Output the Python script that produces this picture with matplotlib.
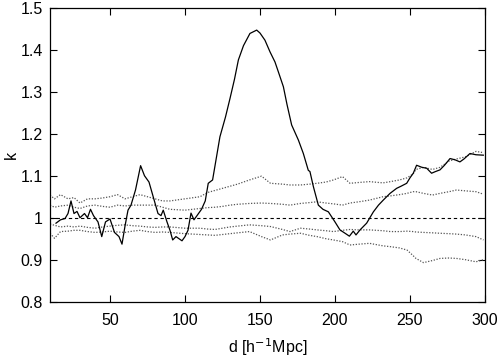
import matplotlib
matplotlib.use("Agg")
import matplotlib.pyplot as plt
from matplotlib.ticker import FuncFormatter

plt.rcParams['font.family'] = ['Liberation Sans', 'DejaVu Sans']

# measured k(d)
d_meas = [14, 17, 20, 22, 24, 26, 28, 30, 33, 35, 37, 39, 42, 44.5, 47, 50,
          53, 56, 58, 60, 62, 64, 67, 70.4, 73, 76, 78, 80, 82, 84, 85.5, 88,
          90, 91.8, 94, 96, 98, 100, 102, 104, 106, 108, 111, 113.5, 115.5, 118.4,
          123.3, 127, 130, 133, 135.6, 139, 143.3, 147.8, 150, 153.3, 156.7, 160,
          162.2, 165.6, 168, 171.1, 175.6, 178.9, 182.2, 183.3, 185.6, 188.9, 192,
          195.6, 200, 203.3, 206.7, 209.6, 212.2, 214, 216.7, 221.1, 225.6, 229,
          232.2, 236.7, 241.1, 244, 247.8, 250, 252.2, 254.4, 258, 261.1, 264.4,
          267, 270, 273, 276.7, 280, 283.3, 286, 290, 294, 298.9]
k_meas = [0.987, 0.995, 0.998, 1.01, 1.04, 1.01, 1.015, 1.0, 1.01, 1.0, 1.02, 1.005,
          0.99, 0.955, 0.99, 0.997, 0.965, 0.955, 0.937, 0.98, 1.018, 1.03, 1.066,
          1.124, 1.1, 1.085, 1.06, 1.035, 1.01, 1.005, 1.018, 0.99, 0.97, 0.947,
          0.955, 0.95, 0.945, 0.955, 0.97, 1.011, 0.995, 1.005, 1.02, 1.04, 1.082,
          1.09, 1.193, 1.24, 1.284, 1.33, 1.376, 1.41, 1.439, 1.447, 1.44, 1.423,
          1.395, 1.371, 1.348, 1.312, 1.27, 1.221, 1.185, 1.153, 1.113, 1.11, 1.074,
          1.03, 1.02, 1.014, 0.99, 0.971, 0.963, 0.956, 0.968, 0.959, 0.971, 0.987,
          1.014, 1.03, 1.042, 1.058, 1.07, 1.075, 1.082, 1.095, 1.106, 1.125, 1.12,
          1.118, 1.106, 1.11, 1.114, 1.125, 1.141, 1.138, 1.133, 1.14, 1.153,
          1.15, 1.149]

# band curves
d_band = [10, 13, 17, 22, 26, 30, 35, 40, 45, 50, 55, 60, 65, 70, 75, 80, 85, 90,
          100, 110, 115, 120, 125, 130, 135, 143, 151, 157, 165, 170, 177, 183,
          188, 194, 199, 205, 210, 216, 223, 232, 237, 243, 248, 252, 254, 259,
          265, 270, 276, 281, 287, 294, 299]
up_outer = [1.054, 1.045, 1.055, 1.045, 1.048, 1.035, 1.045, 1.045, 1.047, 1.05,
            1.055, 1.045, 1.05, 1.055, 1.05, 1.045, 1.04, 1.04, 1.045, 1.05, 1.06,
            1.065, 1.07, 1.075, 1.08, 1.09, 1.099, 1.082, 1.08, 1.078, 1.078, 1.08,
            1.082, 1.085, 1.09, 1.098, 1.082, 1.084, 1.086, 1.083, 1.086, 1.09,
            1.095, 1.104, 1.115, 1.12, 1.115, 1.12, 1.135, 1.14, 1.145, 1.158, 1.155]
up_inner = [1.03, 1.025, 1.028, 1.03, 1.025, 1.022, 1.028, 1.03, 1.027, 1.025,
            1.03, 1.028, 1.03, 1.03, 1.03, 1.03, 1.025, 1.02, 1.018, 1.022, 1.024,
            1.025, 1.027, 1.03, 1.032, 1.034, 1.035, 1.034, 1.032, 1.030, 1.034,
            1.036, 1.038, 1.035, 1.033, 1.030, 1.035, 1.038, 1.042, 1.050, 1.052,
            1.055, 1.058, 1.062, 1.062, 1.058, 1.054, 1.058, 1.062, 1.066, 1.064,
            1.062, 1.056]
lo_inner = [0.985, 0.982, 0.978, 0.98, 0.978, 0.98, 0.977, 0.975, 0.978, 0.98,
            0.982, 0.983, 0.981, 0.98, 0.978, 0.977, 0.978, 0.978, 0.975, 0.975,
            0.973, 0.972, 0.975, 0.978, 0.98, 0.983, 0.981, 0.979, 0.972, 0.967,
            0.975, 0.973, 0.971, 0.969, 0.967, 0.97, 0.972, 0.971, 0.971, 0.969,
            0.967, 0.967, 0.968, 0.967, 0.966, 0.965, 0.964, 0.963, 0.962, 0.961,
            0.959, 0.955, 0.947]
lo_outer = [0.963, 0.951, 0.967, 0.968, 0.97, 0.97, 0.967, 0.965, 0.966, 0.968,
            0.966, 0.965, 0.968, 0.97, 0.967, 0.965, 0.966, 0.965, 0.962, 0.96,
            0.959, 0.958, 0.96, 0.962, 0.964, 0.967, 0.955, 0.947, 0.959, 0.961,
            0.963, 0.958, 0.955, 0.95, 0.947, 0.943, 0.935, 0.937, 0.939, 0.933,
            0.931, 0.928, 0.923, 0.91, 0.903, 0.893, 0.898, 0.903, 0.904, 0.903,
            0.9, 0.895, 0.9]

fig = plt.figure(figsize=(4.99, 3.57), dpi=100)
ax = fig.add_axes([0.1002, 0.155, 0.8717, 0.823])

dot = dict(color='#555555', lw=0.9, ls=(0, (1, 1.3)))
ax.plot(d_band, up_outer, **dot)
ax.plot(d_band, up_inner, **dot)
ax.plot(d_band, lo_inner, **dot)
ax.plot(d_band, lo_outer, **dot)
ax.axhline(1.0, color='black', lw=0.8, ls=(0, (3, 2.5)))
ax.plot(d_meas, k_meas, color='black', lw=0.9)

ax.set_xlim(10, 300)
ax.set_ylim(0.8, 1.5)
ax.set_xticks([50, 100, 150, 200, 250, 300])
ax.set_yticks([0.8, 0.9, 1.0, 1.1, 1.2, 1.3, 1.4, 1.5])
ax.yaxis.set_major_formatter(FuncFormatter(lambda v, p: f"{v:g}"))
ax.tick_params(direction='in', top=True, right=True, length=5, width=0.8,
               labelsize=11.5)
ax.tick_params(axis='x', pad=8)
ax.tick_params(axis='y', pad=5)
for s in ax.spines.values():
    s.set_linewidth(0.9)
ax.set_xlabel(r"d [h$^{-1}$Mpc]", fontsize=11.5, labelpad=6)
ax.set_ylabel("k", fontsize=11.5, labelpad=1)

fig.savefig("out.png", dpi=100)
